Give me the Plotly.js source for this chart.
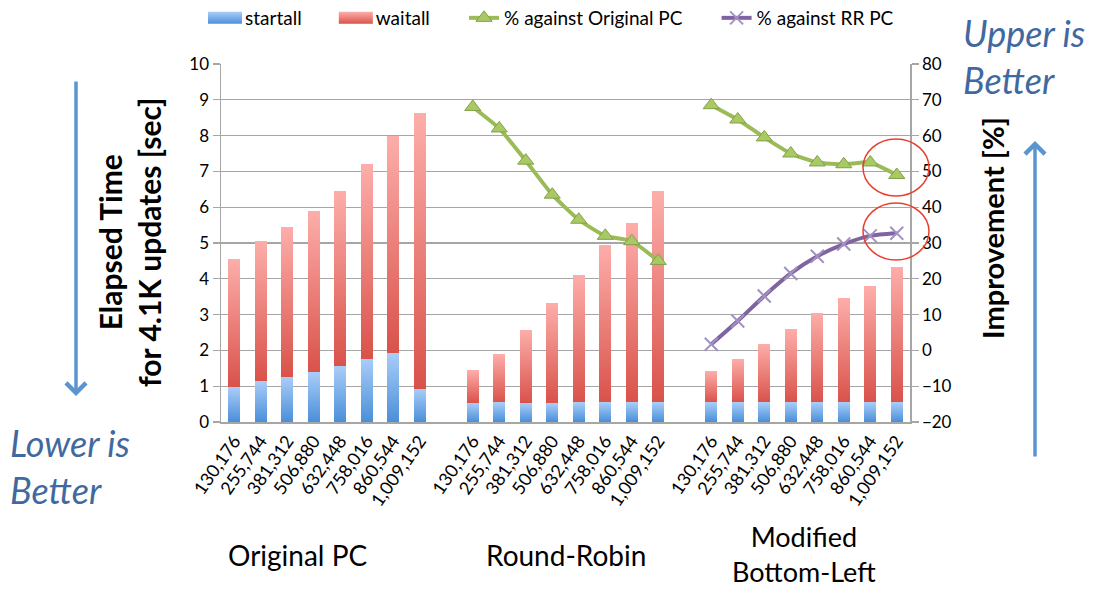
<!DOCTYPE html>
<html>
<head>
<meta charset="utf-8">
<script src="https://cdn.plot.ly/plotly-3.0.1.min.js"></script>
<style>
  html, body { margin: 0; padding: 0; background: #ffffff; }
  #chart { width: 1093px; height: 589px; }
</style>
</head>
<body>
<svg width="0" height="0" style="position:absolute">
  <defs>
    <linearGradient id="gradBlue" x1="0" y1="1" x2="0" y2="0">
      <stop offset="0" stop-color="#4a8fd9"/>
      <stop offset="1" stop-color="#a9cdf8"/>
    </linearGradient>
    <linearGradient id="gradRed" x1="0" y1="1" x2="0" y2="0">
      <stop offset="0" stop-color="#d9524a"/>
      <stop offset="1" stop-color="#fdaeaa"/>
    </linearGradient>
  </defs>
</svg>
<div id="chart"></div>
<script>
// Update counts shown under each group of bars
const updateLabels = ['130,176', '255,744', '381,312', '506,880', '632,448', '758,016', '860,544', '1,009,152'];
const groupNames = ['Original PC', 'Round-Robin', 'Modified<br>Bottom-Left'];
const seriesNames = ['startall', 'waitall', '% against Original PC', '% against RR PC'];

// startall time [sec]
const startOriginal = [0.97, 1.14, 1.25, 1.39, 1.56, 1.76, 1.93, 0.93];
const startRR       = [0.53, 0.55, 0.53, 0.53, 0.55, 0.55, 0.55, 0.55];
const startModified = [0.55, 0.55, 0.55, 0.55, 0.55, 0.55, 0.55, 0.55];

// waitall time [sec]
const waitOriginal = [3.58, 3.92, 4.21, 4.51, 4.90, 5.45, 6.07, 7.70];
const waitRR       = [0.92, 1.35, 2.04, 2.80, 3.56, 4.40, 5.02, 5.89];
const waitModified = [0.87, 1.21, 1.63, 2.05, 2.50, 2.92, 3.25, 3.79];

// Improvement [%]
const vsOriginalRR       = [68, 62, 53, 43.5, 36.5, 32, 30.5, 25];
const vsOriginalModified = [68.5, 64.5, 59.5, 55, 52.5, 52, 52.5, 49];
const vsRRModified       = [1.7, 8.2, 15.2, 21.5, 26.3, 29.7, 32.0, 32.7];

// Each group takes one slot per update count plus one empty slot after it
const perGroup = updateLabels.length;
const slot = (g, i) => g * (perGroup + 1) + i;

const xs = [], tickText = [], startY = [], waitY = [];
const startSets = [startOriginal, startRR, startModified];
const waitSets = [waitOriginal, waitRR, waitModified];
for (let g = 0; g < 3; g++) {
  for (let i = 0; i < perGroup; i++) {
    xs.push(slot(g, i));
    tickText.push(updateLabels[i]);
    startY.push(startSets[g][i]);
    waitY.push(waitSets[g][i]);
  }
}

// Line against the original PC: Round-Robin and Modified groups, broken between them
const origX = [], origY = [];
[[1, vsOriginalRR], [2, vsOriginalModified]].forEach(([g, vals], k) => {
  if (k > 0) { origX.push(slot(g, -1)); origY.push(null); }
  vals.forEach((v, i) => { origX.push(slot(g, i)); origY.push(v); });
});
const rrX = vsRRModified.map((v, i) => slot(2, i));

const FONT = 'Lato, "Open Sans", sans-serif';
const GRID = '#a6a6a6';
const BLUE_TEXT = '#41699f';
const ARROW = '#5b95cf';
// extra room after each legend entry
const PAD = '\u00a0\u00a0\u00a0\u00a0\u00a0\u00a0';

const traces = [
  { type: 'bar', name: seriesNames[0] + PAD, x: xs, y: startY, width: 0.45,
    marker: { color: '#78aeea', line: { width: 0 } } },
  { type: 'bar', name: seriesNames[1] + PAD, x: xs, y: waitY, width: 0.45,
    marker: { color: '#ee8a84', line: { width: 0 } } },
  { type: 'scatter', mode: 'lines+markers', name: seriesNames[2] + PAD,
    x: origX, y: origY, yaxis: 'y2', connectgaps: false,
    line: { color: '#9bbb59', width: 4, shape: 'spline', smoothing: 0.5 },
    marker: { symbol: 'triangle-up', size: 14, color: '#a8c964',
              line: { color: '#83a047', width: 1 } } },
  { type: 'scatter', mode: 'lines+markers', name: seriesNames[3],
    x: rrX, y: vsRRModified, yaxis: 'y2',
    line: { color: '#8064a2', width: 4, shape: 'spline', smoothing: 0.6 },
    marker: { symbol: 'x-thin', size: 13, color: '#a291c2',
              line: { color: '#a291c2', width: 2 } } }
];

// Plot area spans 221..910 px horizontally and 64..422 px vertically
const L = 221, R = 910, T = 64, B = 422;
const px = v => (v - L) / (R - L);
const py = v => (B - v) / (B - T);

const layout = {
  width: 1093, height: 589,
  margin: { l: L, r: 1093 - R, t: T, b: 589 - B, autoexpand: false },
  paper_bgcolor: '#ffffff', plot_bgcolor: '#ffffff',
  font: { family: FONT, color: '#000000', size: 16 },
  barmode: 'stack',
  showlegend: true,
  legend: { orientation: 'h', x: px(552), xanchor: 'center', y: py(-1), yanchor: 'top',
            traceorder: 'normal', font: { size: 19, family: FONT }, itemwidth: 30 },
  xaxis: { range: [-0.5, 3 * perGroup + 1.5], tickmode: 'array', tickvals: xs, ticktext: tickText,
           tickangle: -55, tickfont: { size: 18, family: FONT }, showgrid: false, zeroline: false,
           showline: true, linecolor: GRID, linewidth: 1.5, ticks: '' },
  yaxis: { range: [0, 10], dtick: 1, showgrid: true, gridcolor: GRID, gridwidth: 1.3,
           zeroline: false, showline: true, linecolor: GRID, linewidth: 1.5,
           ticks: 'outside', ticklen: 7, tickcolor: GRID, tickwidth: 1.3,
           tickfont: { size: 17, family: FONT } },
  yaxis2: { range: [-20, 80], dtick: 10, overlaying: 'y', side: 'right', showgrid: false,
            zeroline: false, showline: true, linecolor: GRID, linewidth: 1.5,
            ticks: 'outside', ticklen: 7, tickcolor: GRID, tickwidth: 1.3,
            tickfont: { size: 17, family: FONT } },
  annotations: [
    { xref: 'paper', yref: 'paper', x: px(129), y: py(242), xanchor: 'center', yanchor: 'middle',
      textangle: -90, showarrow: false,
      text: '<b>Elapsed Time<br>for 4.1K updates [sec]</b>', font: { size: 30, family: FONT } },
    { xref: 'paper', yref: 'paper', x: px(992), y: py(228), xanchor: 'center', yanchor: 'middle',
      textangle: -90, showarrow: false,
      text: '<b>Improvement [%]</b>', font: { size: 29, family: FONT } },
    { xref: 'paper', yref: 'paper', x: px(961), y: py(9), xanchor: 'left', yanchor: 'top',
      align: 'left', showarrow: false, text: '<i>Upper is<br>Better</i>',
      font: { size: 36, family: FONT, color: BLUE_TEXT } },
    { xref: 'paper', yref: 'paper', x: px(8), y: py(419), xanchor: 'left', yanchor: 'top',
      align: 'left', showarrow: false, text: '<i>Lower is<br>Better</i>',
      font: { size: 36, family: FONT, color: BLUE_TEXT } },
    { xref: 'x', yref: 'paper', x: 2.4, y: py(555), xanchor: 'center', yanchor: 'middle',
      showarrow: false, text: groupNames[0], font: { size: 28, family: FONT } },
    { xref: 'x', yref: 'paper', x: slot(1, 3.5), y: py(555), xanchor: 'center', yanchor: 'middle',
      showarrow: false, text: groupNames[1], font: { size: 28, family: FONT } },
    { xref: 'x', yref: 'paper', x: slot(2, 3.5), y: py(554), xanchor: 'center', yanchor: 'middle',
      showarrow: false, text: groupNames[2], font: { size: 27, family: FONT } },
    // "lower is better" arrow
    { xref: 'paper', yref: 'paper', x: px(76), y: py(396), ax: 0, ay: -316, text: '',
      showarrow: true, arrowhead: 4, arrowsize: 1.1, arrowwidth: 3.5, arrowcolor: ARROW },
    // "upper is better" arrow
    { xref: 'paper', yref: 'paper', x: px(1035), y: py(141), ax: 0, ay: 317, text: '',
      showarrow: true, arrowhead: 4, arrowsize: 1.1, arrowwidth: 3.5, arrowcolor: ARROW }
  ],
  shapes: [
    { type: 'circle', xref: 'paper', yref: 'paper', layer: 'above',
      x0: px(863), x1: px(929), y0: py(196), y1: py(139),
      line: { color: '#e8402e', width: 1.5 } },
    { type: 'circle', xref: 'paper', yref: 'paper', layer: 'above',
      x0: px(863), x1: px(929), y0: py(260), y1: py(203),
      line: { color: '#e8402e', width: 1.5 } }
  ]
};

Plotly.newPlot('chart', traces, layout, { displayModeBar: false, staticPlot: true }).then(gd => {
  // Vertical gradient fills on the stacked bars and their legend swatches
  const fills = ['url(#gradBlue)', 'url(#gradRed)'];
  gd.querySelectorAll('.barlayer .trace').forEach((t, k) => {
    t.querySelectorAll('path').forEach(p => { p.style.fill = fills[k]; });
  });
  gd.querySelectorAll('.legend .traces').forEach((t, k) => {
    if (k > 1) return;
    t.querySelectorAll('.legendpoints path').forEach(p => {
      p.setAttribute('d', 'M17,6H-17V-6H17Z');
      p.style.fill = fills[k];
      p.style.stroke = 'none';
    });
  });
});
</script>
</body>
</html>
